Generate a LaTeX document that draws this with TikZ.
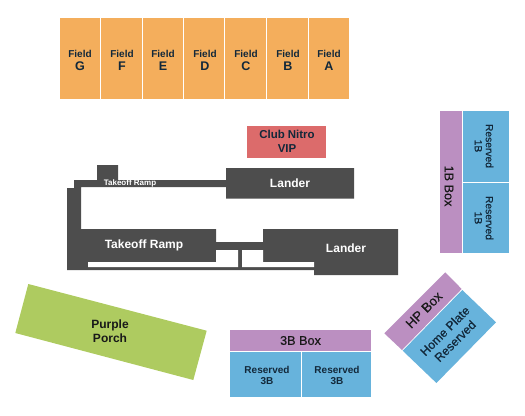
\documentclass[tikz,border=0pt]{standalone}
\usepackage{fontspec}
\setmainfont{Liberation Sans}
\newfontfamily\mediumfont[FakeBold=0.35]{Liberation Sans}
\usepackage{xcolor}
\definecolor{fieldorange}{HTML}{F4AE5C}
\definecolor{boxpurple}{HTML}{BB8FC1}
\definecolor{reservedblue}{HTML}{67B3DC}
\definecolor{porchgreen}{HTML}{AECB60}
\definecolor{nitrored}{HTML}{DC6B6B}
\definecolor{standdark}{HTML}{4D4D4D}
\definecolor{labelnavy}{HTML}{12283A}
\tikzset{
  seatlabel/.style={inner sep=0.75pt,align=center,text=labelnavy,font=\bfseries\fontsize{7.5}{8.4}\selectfont},
  boxlabel/.style={inner sep=0.75pt,align=center,text=black!90,font=\mediumfont\fontsize{9.5}{11}\selectfont},
  standlabel/.style={inner sep=0.75pt,text=white,font=\bfseries\fontsize{9}{11}\selectfont},
}

\begin{document}
\begin{tikzpicture}[x=0.75pt,y=0.75pt,yscale=-1,xscale=1]
\useasboundingbox (0,0) rectangle (525,415);

%Shape: Field rows
\fill [fieldorange] (60,18) -- (100,18) -- (100,99) -- (60,99) -- cycle ;
\fill [fieldorange] (101,18) -- (142,18) -- (142,99) -- (101,99) -- cycle ;
\fill [fieldorange] (143,18) -- (183,18) -- (183,99) -- (143,99) -- cycle ;
\fill [fieldorange] (184,18) -- (224,18) -- (224,99) -- (184,99) -- cycle ;
\fill [fieldorange] (225,18) -- (266,18) -- (266,99) -- (225,99) -- cycle ;
\fill [fieldorange] (267,18) -- (308,18) -- (308,99) -- (267,99) -- cycle ;
\fill [fieldorange] (309,18) -- (349,18) -- (349,99) -- (309,99) -- cycle ;
%Shape: Club Nitro
\fill [nitrored] (247,126) -- (326,126) -- (326,158) -- (247,158) -- cycle ;
%Shape: 1B side
\fill [boxpurple] (440,111) -- (462,111) -- (462,253) -- (440,253) -- cycle ;
\fill [reservedblue] (463,111) -- (509,111) -- (509,181.5) -- (463,181.5) -- cycle ;
\fill [reservedblue] (463,182.5) -- (509,182.5) -- (509,253) -- (463,253) -- cycle ;
%Shape: 3B side
\fill [boxpurple] (230,330) -- (371,330) -- (371,351) -- (230,351) -- cycle ;
\fill [reservedblue] (230,352) -- (301,352) -- (301,397) -- (230,397) -- cycle ;
\fill [reservedblue] (302,352) -- (371,352) -- (371,397) -- (302,397) -- cycle ;
%Shape: Home plate side
\fill [boxpurple] (445.3,272.3) -- (461.7,289) -- (402,350) -- (384.3,333.3) -- cycle ;
\fill [reservedblue] (462.3,290) -- (496,322.3) -- (436.4,383) -- (402.7,350.7) -- cycle ;
%Shape: Purple Porch
\fill [porchgreen] (28.3,284) -- (206.7,330.7) -- (193.3,380) -- (15.3,333) -- cycle ;

%Shape: upper ramp and lander
\fill [standdark] (97,165) -- (118,165) -- (118,180) -- (226,180) -- (226,168) -- (354,168) -- (354,198.7) -- (226,198.7) -- (226,187) -- (81,187) -- (81,229) -- (216,229) -- (216,242) -- (263,242) -- (263,229) -- (398,229) -- (398,275) -- (314,275) -- (314,270) -- (67,270) -- (67,188) -- (74,188) -- (74,180) -- (97,180) -- cycle ;
%Shape: gaps in the lower stand
\fill [white] (88,262) -- (216,262) -- (216,250) -- (238,250) -- (238,267) -- (88,267) -- cycle ;
\fill [white] (242,250) -- (263,250) -- (263,262) -- (314,262) -- (314,267) -- (242,267) -- cycle ;

% Text Node
\node [seatlabel] (fieldg) at (80,60.5) {Field\\[1pt]{\fontsize{9.4}{9}\selectfont G}};
\node [seatlabel] (fieldf) at (122,60.5) {Field\\[1pt]{\fontsize{9.4}{9}\selectfont F}};
\node [seatlabel] (fielde) at (163,60.5) {Field\\[1pt]{\fontsize{9.4}{9}\selectfont E}};
\node [seatlabel] (fieldd) at (205,60.5) {Field\\[1pt]{\fontsize{9.4}{9}\selectfont D}};
\node [seatlabel] (fieldc) at (246,60.5) {Field\\[1pt]{\fontsize{9.4}{9}\selectfont C}};
\node [seatlabel] (fieldb) at (288,60.5) {Field\\[1pt]{\fontsize{9.4}{9}\selectfont B}};
\node [seatlabel] (fielda) at (329,60.5) {Field\\[1pt]{\fontsize{9.4}{9}\selectfont A}};
% Text Node
\node [seatlabel,font=\bfseries\fontsize{8.6}{10}\selectfont] (clubnitro) at (287,141.5) {Club Nitro\\VIP};
% Text Node
\node [standlabel] (landerupper) at (290,183) {Lander};
\node [standlabel] (landerlower) at (346,248) {Lander};
\node [standlabel] (ramplower) at (144,245) {Takeoff Ramp};
\node [standlabel,font=\bfseries\fontsize{6}{7}\selectfont] (rampupper) at (130,183) {Takeoff Ramp};
% Text Node
\node [boxlabel,rotate=270] (boxfirst) at (449,186) {1B Box};
\node [seatlabel,rotate=270,font=\mediumfont\fontsize{7.7}{8.3}\selectfont] (reservedfirsta) at (484,146) {Reserved\\1B};
\node [seatlabel,rotate=270,font=\mediumfont\fontsize{7.7}{8.3}\selectfont] (reservedfirstb) at (484,218) {Reserved\\1B};
% Text Node
\node [boxlabel] (boxthird) at (300.5,340.5) {3B Box};
\node [seatlabel] (reservedthirda) at (267,375.5) {Reserved\\3B};
\node [seatlabel] (reservedthirdb) at (337,375.5) {Reserved\\3B};
% Text Node
\node [boxlabel,rotate=45,font=\mediumfont\fontsize{10}{11}\selectfont] (boxhp) at (424,310) {HP Box};
\node [boxlabel,rotate=45,text=labelnavy,font=\mediumfont\fontsize{9.2}{10.8}\selectfont] (reservedhome) at (450,336) {Home Plate\\Reserved};
% Text Node
\node [boxlabel,font=\bfseries\fontsize{9}{10.5}\selectfont] (porch) at (110,331) {Purple\\Porch};

\end{tikzpicture}
\end{document}
